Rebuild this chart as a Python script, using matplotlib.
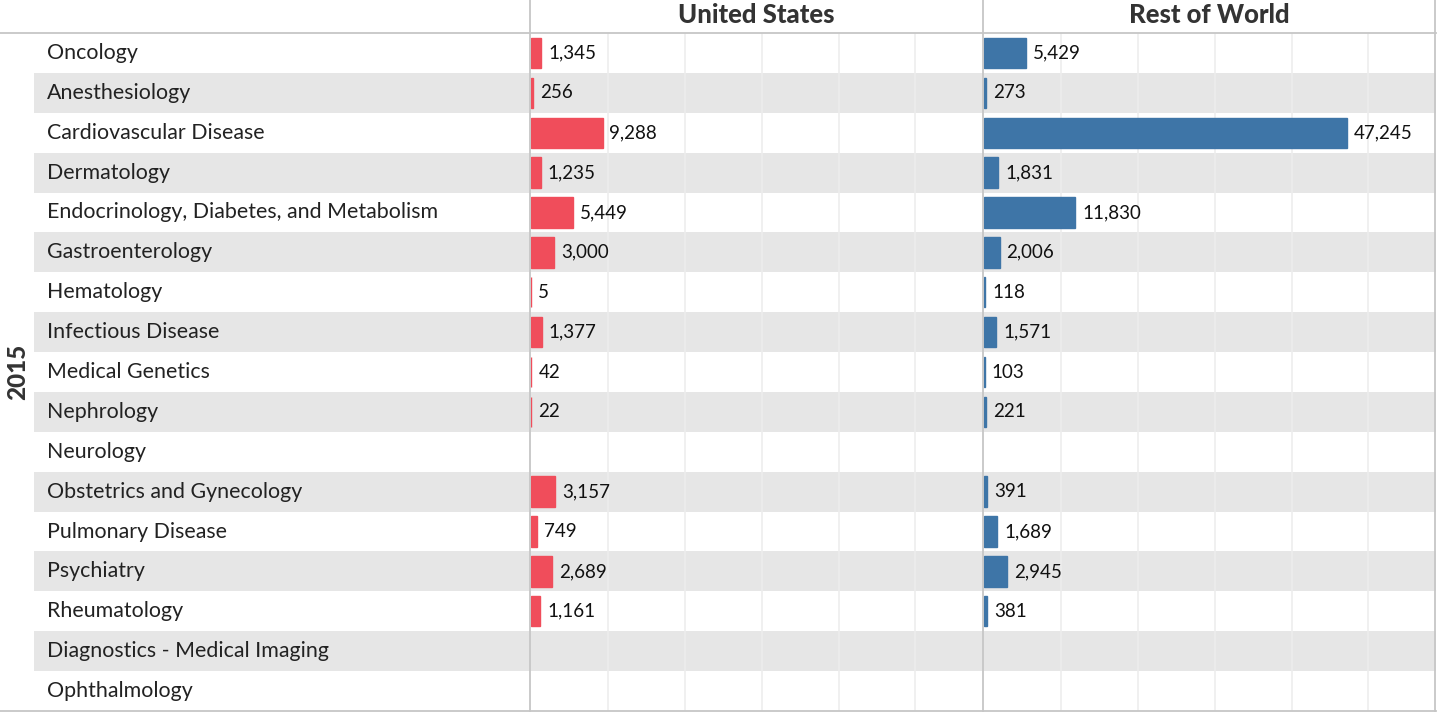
import matplotlib
matplotlib.use("Agg")
import matplotlib.pyplot as plt
import numpy as np
from matplotlib.lines import Line2D

plt.rcParams['font.family'] = ['Lato', 'DejaVu Sans']

# data (2015)
categories = ["Oncology", "Anesthesiology", "Cardiovascular Disease", "Dermatology",
              "Endocrinology, Diabetes, and Metabolism", "Gastroenterology", "Hematology",
              "Infectious Disease", "Medical Genetics", "Nephrology", "Neurology",
              "Obstetrics and Gynecology", "Pulmonary Disease", "Psychiatry",
              "Rheumatology", "Diagnostics - Medical Imaging", "Ophthalmology"]
us_values = [1345, 256, 9288, 1235, 5449, 3000, 5, 1377, 42, 22, np.nan,
             3157, 749, 2689, 1161, np.nan, np.nan]
row_values = [5429, 273, 47245, 1831, 11830, 2006, 118, 1571, 103, 221, np.nan,
              391, 1689, 2945, 381, np.nan, np.nan]
panel_titles = ["United States", "Rest of World"]
panel_colors = ["#f04d5b", "#3e75a7"]
year_label = "2015"

W, H = 1440, 714
fig = plt.figure(figsize=(W / 100, H / 100), dpi=100)

n = len(categories)
y_pos = np.arange(n)
top_px, bot_px = 33, 711
band_color = "#e6e6e6"
line_color = "#c6c6c6"


def px_axes(x0, x1):
    return fig.add_axes([x0 / W, 1 - bot_px / H, (x1 - x0) / W, (bot_px - top_px) / H])


def add_bands(ax):
    for i in range(n):
        if i % 2 == 1:
            ax.axhspan(i - 0.5, i + 0.5, color=band_color, lw=0, zorder=0)


# label column
lab_ax = px_axes(34, 530)
lab_ax.set_xlim(0, 1)
lab_ax.set_ylim(n - 0.5, -0.5)
add_bands(lab_ax)
for i, c in enumerate(categories):
    lab_ax.text(13 / 496, i, c, va="center", ha="left", fontsize=15.4, color="#222222")
lab_ax.axis("off")

fig.text(18 / W, 1 - 372 / H, year_label, rotation=90, ha="center", va="center",
         fontsize=17.5, fontweight="black", color="#333333")

# the two bar panels
edges = [(530, 983), (983, 1436)]
for (x0, x1), vals, title, col in zip(edges, [us_values, row_values], panel_titles, panel_colors):
    ax = px_axes(x0, x1)
    add_bands(ax)
    ax.set_xlim(-150, 58800)
    ax.set_ylim(n - 0.5, -0.5)
    ax.set_xticks(np.arange(10000, 58000, 10000))
    ax.set_axisbelow(True)
    ax.xaxis.grid(True, color="#ededed", lw=1.2)
    ax.tick_params(bottom=False, left=False, labelbottom=False, labelleft=False)
    for s in ax.spines.values():
        s.set_visible(False)
    vals = np.array(vals, dtype=float)
    ok = ~np.isnan(vals)
    ax.barh(y_pos[ok], vals[ok], height=0.76, color=col,
            edgecolor=col, lw=1.0, zorder=2)
    for i, v in zip(y_pos[ok], vals[ok]):
        ax.annotate(f"{int(v):,}", (v, i), xytext=(5, 0), textcoords="offset points",
                    va="center", ha="left", fontsize=13.5, color="#111111")
    fig.text((x0 + x1) / 2 / W, 1 - 15 / H, title, ha="center", va="center",
             fontsize=18.5, fontweight="black", color="#333333")

# frame lines
for xp in [530, 983, 1435]:
    fig.add_artist(Line2D([xp / W, xp / W], [1 - bot_px / H, 1], color=line_color, lw=1.3))
for yp in [top_px, bot_px]:
    fig.add_artist(Line2D([0, 1436 / W], [1 - yp / H, 1 - yp / H], color=line_color, lw=1.3))

fig.savefig("out.png", dpi=100, facecolor="white")
